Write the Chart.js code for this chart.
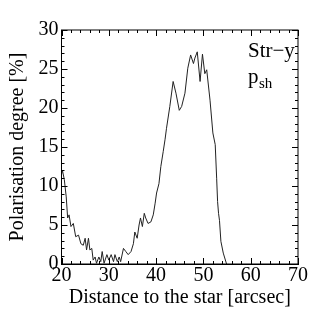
<!DOCTYPE html>
<html>
<head>
<meta charset="utf-8">
<script src="https://cdn.jsdelivr.net/npm/chart.js@4/dist/chart.umd.min.js"></script>
<style>
  html, body { margin: 0; padding: 0; background: #fff; }
  #wrap { width: 327px; height: 327px; }
</style>
</head>
<body>
<div id="wrap"><canvas id="myChart"></canvas></div>
<script>
// distance to the star [arcsec]
var xVals = [20.0, 20.2, 20.6, 21.0, 21.3, 21.6, 22.0, 22.5, 23.0, 23.6, 24.1, 24.6, 25.0, 25.3, 25.7,
  26.0, 26.4, 26.7, 27.1, 27.4, 27.9, 28.3, 28.6, 29.0, 29.6, 30.0, 30.5, 31.0, 31.3, 31.8,
  32.2, 32.5, 33.1, 33.6, 34.1, 34.7, 35.2, 35.5, 36.0, 36.4, 36.7, 37.1, 37.5, 37.8, 38.3,
  38.9, 39.4, 39.8, 40.1, 40.6, 41.0, 41.5, 41.9, 42.2, 42.9, 43.6, 44.2, 44.9, 45.4, 46.1,
  46.7, 47.3, 47.9, 48.2, 48.7, 49.3, 49.8, 50.3, 50.7, 51.4, 52.0, 52.5, 52.8, 53.0, 53.2,
  53.4, 53.7, 54.2, 54.9];
// polarisation degree [%]
var yVals = [11.5, 12.0, 10.8, 8.6, 5.9, 6.3, 4.8, 5.2, 3.5, 3.7, 2.6, 2.4, 3.3, 1.8, 3.3,
  1.8, 2.0, 0.5, 0.9, 0.1, 0.9, 0.3, 1.6, 0.1, 1.2, 0.5, 1.2, 0.3, 1.2, 0.3,
  0.9, 0.3, 2.0, 1.6, 1.2, 1.6, 2.6, 4.1, 3.3, 5.0, 5.9, 4.8, 6.5, 5.9, 5.2,
  5.4, 6.3, 7.8, 9.1, 10.3, 12.5, 14.4, 16.0, 17.4, 20.2, 23.4, 21.9, 19.7, 20.2, 21.9,
  25.1, 26.8, 25.7, 26.4, 27.2, 23.4, 26.9, 24.4, 24.9, 21.0, 16.8, 15.3, 11.0, 8.0, 6.5,
  5.6, 2.9, 1.4, 0.0];

var xTicks = [20, 30, 40, 50, 60, 70];
var yTicks = [0, 5, 10, 15, 20, 25, 30];

var points = xVals.map(function (x, i) { return { x: x, y: yVals[i] }; });
var serif = "'Liberation Serif', 'DejaVu Serif', serif";

// frame + inward ticks (major and minor) on all four sides
var frameTicks = {
  id: 'frameTicks',
  afterDraw: function (chart) {
    var c = chart.ctx, a = chart.chartArea;
    var xs = chart.scales.x, ys = chart.scales.y;
    c.save();
    c.strokeStyle = '#000';
    c.lineWidth = 1;
    c.strokeRect(a.left, a.top, a.right - a.left, a.bottom - a.top);
    c.beginPath();
    for (var v = 20; v <= 70; v += 2) {
      var px = Math.round(xs.getPixelForValue(v)) + 0.5;
      var len = (v % 10 === 0) ? 6 : 3;
      c.moveTo(px, a.bottom); c.lineTo(px, a.bottom - len);
      c.moveTo(px, a.top); c.lineTo(px, a.top + len);
    }
    for (var w = 0; w <= 30; w += 1) {
      var py = Math.round(ys.getPixelForValue(w)) + 0.5;
      var l2 = (w % 5 === 0) ? 6 : 3;
      c.moveTo(a.left, py); c.lineTo(a.left + l2, py);
      c.moveTo(a.right, py); c.lineTo(a.right - l2, py);
    }
    c.stroke();

    // panel label
    c.fillStyle = '#000';
    c.textAlign = 'left';
    c.textBaseline = 'alphabetic';
    c.font = '21px ' + serif;
    c.fillText('Str\u2212y', 248, 57);
    c.fillText('p', 248, 83);
    c.font = '15px ' + serif;
    c.fillText('sh', 259, 88);
    c.restore();
  }
};

var ctx = document.getElementById('myChart').getContext('2d');
var chart = new Chart(ctx, {
  type: 'line',
  data: {
    datasets: [{
      data: points,
      borderColor: '#222',
      borderWidth: 1,
      pointRadius: 0,
      tension: 0,
      fill: false
    }]
  },
  options: {
    responsive: true,
    maintainAspectRatio: false,
    animation: false,
    layout: { padding: { left: 8, right: 29, top: 30, bottom: 19 } },
    plugins: { legend: { display: false }, tooltip: { enabled: false } },
    scales: {
      x: {
        type: 'linear',
        min: 20, max: 70,
        afterBuildTicks: function (s) { s.ticks = xTicks.map(function (v) { return { value: v }; }); },
        afterFit: function (s) { s.height = 44; },
        grid: { display: false, drawTicks: false },
        border: { display: true, color: '#000' },
        ticks: { color: '#000', padding: 2, maxRotation: 0, font: { family: serif, size: 20, lineHeight: 1 } },
        title: {
          display: true, text: 'Distance to the star [arcsec]', color: '#000',
          font: { family: serif, size: 20, lineHeight: 1 }, padding: { top: 0, bottom: 0 }
        }
      },
      y: {
        min: 0, max: 30,
        afterBuildTicks: function (s) { s.ticks = yTicks.map(function (v) { return { value: v }; }); },
        afterFit: function (s) { s.width = 53.5; },
        grid: { display: false, drawTicks: false },
        border: { display: true, color: '#000' },
        ticks: { color: '#000', padding: 3, font: { family: serif, size: 20, lineHeight: 1 } },
        title: {
          display: true, text: 'Polarisation degree [%]', color: '#000',
          font: { family: serif, size: 20, lineHeight: 1 }, padding: { top: 0, bottom: 0 }
        }
      }
    }
  },
  plugins: [frameTicks]
});
</script>
</body>
</html>
